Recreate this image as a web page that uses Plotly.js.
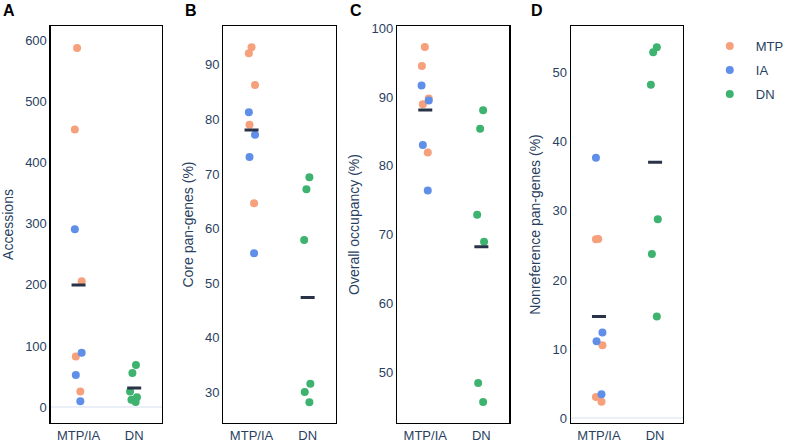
<!DOCTYPE html>
<html>
<head>
<meta charset="utf-8">
<script src="https://cdn.plot.ly/plotly-3.0.1.min.js"></script>
<style>html,body{margin:0;padding:0;background:#fff;}#chart{width:789px;height:445px;}</style>
</head>
<body>
<div id="chart"></div>
<script>
// ---- data ----
const groupLabels = ['MTP/IA', 'DN'];
const panelTitles = ['Accessions', 'Core pan-genes (%)', 'Overall occupancy (%)', 'Nonreference pan-genes (%)'];
const panelLetters = ['A', 'B', 'C', 'D'];

// Panel A: Accessions
const mtpA = [587, 454, 206, 83, 26];
const mtpAJit = [-0.026, -0.067, 0.056, -0.049, 0.032];
const iaA = [291, 89, 53, 10];
const iaAJit = [-0.067, 0.056, -0.049, 0.032];
const dnA = [69, 56, 26, 12.4, 16.3, 8.7];
const dnAJit = [0.032, -0.032, -0.074, -0.049, 0.049, 0.026];

// Panel B: Core pan-genes (%)
const mtpB = [93.2, 92.1, 86.3, 79.0, 64.65];
const mtpBJit = [0.0, -0.048, 0.062, -0.036, 0.045];
const iaB = [81.3, 77.2, 73.1, 55.5];
const iaBJit = [-0.048, 0.062, -0.036, 0.045];
const dnB = [69.4, 67.2, 57.9, 31.6, 30.06, 28.2];
const dnBJit = [0.031, -0.022, -0.062, 0.048, -0.052, 0.031];

// Panel C: Overall occupancy (%)
const mtpC = [97.24, 94.48, 89.78, 88.96, 81.94];
const mtpCJit = [-0.008, -0.06, 0.062, -0.043, 0.045];
const iaC = [91.67, 89.5, 83.05, 76.42];
const iaCJit = [-0.066, 0.062, -0.043, 0.045];
const dnC = [88.09, 85.38, 72.9, 69.0, 48.5, 45.74];
const dnCJit = [0.031, -0.022, -0.075, 0.048, -0.057, 0.031];

// Panel D: Nonreference pan-genes (%)
const mtpD = [25.89, 25.94, 10.56, 3.08, 2.36];
const mtpDJit = [-0.054, -0.013, 0.062, -0.054, 0.045];
const iaD = [37.7, 12.38, 11.14, 3.47];
const iaDJit = [-0.054, 0.062, -0.043, 0.045];
const dnD = [53.67, 52.94, 48.26, 28.79, 23.77, 14.70];
const dnDJit = [0.031, -0.034, -0.075, 0.048, -0.057, 0.031];

const yRanges = [[-25.6, 623], [24.4, 97.1], [42.7, 100.3], [-0.7, 56.75]];

// ---- styling ----
const colors = {MTP: '#F6A07C', IA: '#5F8FE8', DN: '#3DB36F'};
const meanColor = '#283347';
const textColor = '#2a3f5f';
const font = 'Liberation Sans, Arial, Helvetica, sans-serif';

const panels = [
  {mtp: mtpA, mtpJ: mtpAJit, ia: iaA, iaJ: iaAJit, dn: dnA, dnJ: dnAJit},
  {mtp: mtpB, mtpJ: mtpBJit, ia: iaB, iaJ: iaBJit, dn: dnB, dnJ: dnBJit},
  {mtp: mtpC, mtpJ: mtpCJit, ia: iaC, iaJ: iaCJit, dn: dnC, dnJ: dnCJit},
  {mtp: mtpD, mtpJ: mtpDJit, ia: iaD, iaJ: iaDJit, dn: dnD, dnJ: dnDJit}
];

const xDomains = [[52/789, 166/789], [229/789, 344/789], [407/789, 522/789], [585/789, 700/789]];
const yDomain = [1 - 423/445, 1 - 26/445];
const letterX = [1/789, 188/789, 357/789, 542/789];

const mean = a => a.reduce((s, v) => s + v, 0) / a.length;

const traces = [];
const layout = {
  width: 789, height: 445,
  margin: {l: 0, r: 0, t: 0, b: 0},
  paper_bgcolor: '#fff', plot_bgcolor: '#fff',
  font: {family: font, size: 13, color: textColor},
  showlegend: true,
  legend: {x: 0.914, y: 0.93, xanchor: 'left', yanchor: 'top',
           font: {family: font, size: 13, color: textColor},
           itemwidth: 42, traceorder: 'grouped', tracegroupgap: 4},
  annotations: [],
  hovermode: false
};

panels.forEach((p, i) => {
  const n = i === 0 ? '' : String(i + 1);
  const xa = 'x' + n, ya = 'y' + n;
  const addPts = (vals, jit, base, name, col) => {
    traces.push({
      type: 'scatter', mode: 'markers', xaxis: xa, yaxis: ya,
      x: vals.map((v, k) => base + jit[k]), y: vals,
      name: name, legendgroup: name, showlegend: i === 0,
      marker: {color: col, size: 8}
    });
  };
  addPts(p.mtp, p.mtpJ, 0, 'MTP', colors.MTP);
  addPts(p.ia, p.iaJ, 0, 'IA', colors.IA);
  addPts(p.dn, p.dnJ, 1, 'DN', colors.DN);
  traces.push({
    type: 'scatter', mode: 'markers', xaxis: xa, yaxis: ya,
    x: [0, 1], y: [mean(p.mtp.concat(p.ia)), mean(p.dn)],
    showlegend: false,
    marker: {symbol: 'line-ew', size: 10, color: meanColor, line: {color: meanColor, width: 3}}
  });
  layout['xaxis' + n] = {
    domain: xDomains[i], anchor: ya, range: [-0.5, 1.5],
    tickvals: [0, 1], ticktext: groupLabels, ticks: '',
    showgrid: false, zeroline: false, showline: true, mirror: true,
    linecolor: '#000', linewidth: 1.3,
    tickfont: {family: font, size: 13, color: textColor}, automargin: false
  };
  layout['yaxis' + n] = {
    domain: yDomain, anchor: xa, range: yRanges[i],
    showgrid: false, zeroline: true, zerolinecolor: '#EBF0F8', zerolinewidth: 2,
    showline: true, mirror: true, linecolor: '#000', linewidth: 1.3, ticks: '',
    tickfont: {family: font, size: 13, color: textColor},
    title: {text: panelTitles[i], font: {family: font, size: 14, color: textColor}, standoff: 8},
    automargin: false
  };
  layout.annotations.push({
    text: '<b>' + panelLetters[i] + '</b>', xref: 'paper', yref: 'paper',
    x: letterX[i], y: 1 - 10/445, xanchor: 'left', yanchor: 'middle',
    showarrow: false, font: {family: font, size: 16, color: '#000'}
  });
});

Plotly.newPlot('chart', traces, layout, {staticPlot: true, displayModeBar: false});
</script>
</body>
</html>
